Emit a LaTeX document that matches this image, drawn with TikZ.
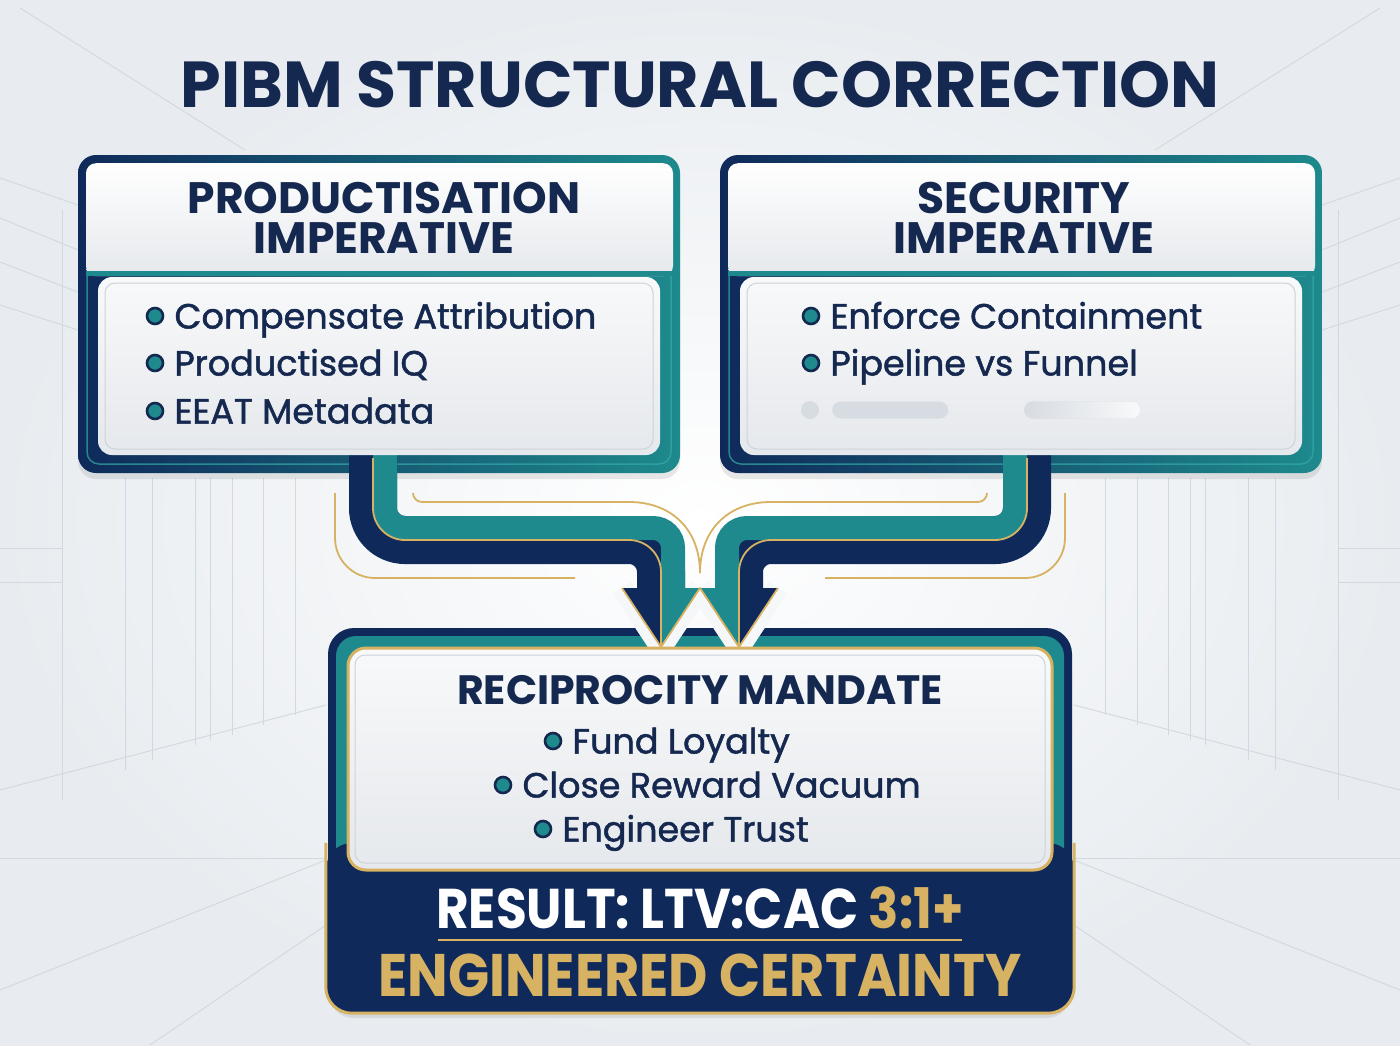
\documentclass[tikz,border=0pt]{standalone}
\usepackage{fontspec}
\setmainfont{Poppins}
\newfontfamily\popmed{Poppins}[FakeBold=1.4]
\usepackage{graphicx}
\usetikzlibrary{positioning,shadows}
\definecolor{navy}{HTML}{0F2A5A}
\definecolor{inknavy}{HTML}{15284F}
\definecolor{tealc}{HTML}{1E8A8D}
\definecolor{teallt}{HTML}{35AAA8}
\definecolor{goldc}{HTML}{D6B262}
\definecolor{bgedge}{HTML}{E8ECF0}
\definecolor{bgln}{HTML}{D2D8DF}
\definecolor{panelhi}{HTML}{F8F9FA}
\definecolor{panelbot}{HTML}{E5E8EC}
\definecolor{innerln}{HTML}{CDD3DA}
\definecolor{ghostc}{HTML}{D7DCE2}
\definecolor{haloc}{HTML}{F6F7F9}

\begin{document}
\begin{tikzpicture}[x=1pt, y=-1pt,
  outerframe/.style={left color=navy, right color=tealc, rounded corners=18pt, inner sep=0pt, drop shadow={opacity=.18, shadow xshift=0pt, shadow yshift=-6pt}},
  stripe/.style={draw=teallt, line width=1.5pt, rounded corners=12pt, inner sep=0pt, opacity=.7},
  headbox/.style={top color=white, bottom color=panelbot, rounded corners=10pt, inner sep=0pt},
  headline/.style={fill=tealc, inner sep=0pt, minimum height=5pt},
  panel/.style={top color=panelhi, bottom color=panelbot, rounded corners=14pt, inner sep=0pt},
  inline/.style={draw=innerln, line width=1pt, rounded corners=10pt, inner sep=0pt},
  titletxt/.style={font=\bfseries\fontsize{65}{70}\selectfont, text=inknavy, inner sep=0pt},
  headtxt/.style={font=\bfseries\fontsize{44}{40}\selectfont, text=inknavy, align=center, inner sep=0pt},
  dot/.style={circle, fill=tealc, draw=inknavy, line width=2.6pt, minimum size=16pt, inner sep=0pt},
  item/.style={font=\popmed\fontsize{35}{40}\selectfont, text=inknavy, inner sep=0pt, text height=25pt, text depth=0pt, anchor=west},
  ghost/.style={fill=ghostc, rounded corners=8.5pt, minimum height=17pt, inner sep=0pt},
  pipe/.style={line width=48pt},
  goldthin/.style={draw=goldc, line width=1.8pt},
  halo/.style={draw=haloc, line width=22pt},
  bgline/.style={draw=bgln, line width=0.9pt}
]
\useasboundingbox (0,0) rectangle (1400,1045);
\shade[inner color=white, outer color=bgedge] (0,0) rectangle (1400,1045);
\foreach \m in {1,-1} {
  \begin{scope}[xshift={(1-\m)*700}, xscale=\m]
    \draw[bgline] (20,8) -- (245,150);
    \draw[bgline] (0,178) -- (78,205);
    \draw[bgline] (0,218) -- (78,250);
    \draw[bgline] (0,262) -- (78,292);
    \draw[bgline] (0,305) -- (78,330);
    \draw[bgline] (62,210) -- (62,800);
    \foreach \x/\b in {125/770,152/760,195/745,210/740,232/735,263/725,295/715}
      \draw[bgline] (\x,478) -- (\x,\b);
    \draw[bgline] (0,548) -- (62,548);
    \draw[bgline] (0,582) -- (62,582);
    \draw[bgline] (0,790) -- (326,705);
    \draw[bgline] (0,858) -- (326,858);
    \draw[bgline] (0,990) -- (326,860);
    \draw[bgline] (150,1045) -- (326,925);
  \end{scope}
}

\node[titletxt] (title) at (700,85) {PIBM STRUCTURAL CORRECTION};

\node[outerframe, minimum width=602pt, minimum height=318pt] (pframe) at (379,314) {};
\node[stripe, minimum width=584pt, minimum height=300pt] (pstripe) at (pframe) {};
\node[headbox, minimum width=587pt, minimum height=113pt, anchor=north] (phead) at (379.5,163) {};
\node[headline, minimum width=587pt, anchor=north] (pline) at (379.5,271) {};

\node[outerframe, minimum width=602pt, minimum height=318pt] (sframe) at (1021,314) {};
\node[stripe, minimum width=584pt, minimum height=300pt] (sstripe) at (sframe) {};
\node[headbox, minimum width=587pt, minimum height=113pt, anchor=north] (shead) at (1021.5,163) {};
\node[headline, minimum width=587pt, anchor=north] (sline) at (1021.5,271) {};

\node[fill=navy, rounded corners=26pt, minimum width=744pt, minimum height=384pt, inner sep=0pt, drop shadow={opacity=.18, shadow xshift=0pt, shadow yshift=-6pt}] (rframe) at (700,820) {};
\node[fill=tealc, rounded corners=20pt, minimum width=728pt, minimum height=368pt, inner sep=0pt] (rstripe) at (rframe) {};
\node[fill=navy, rounded corners=26pt, minimum width=748pt, minimum height=170pt, inner sep=0pt] (rband) at (700,928) {};

\draw[halo] (622,588) -- (661,647) -- (700,588);
\draw[halo] (700,588) -- (739,647) -- (778,588);

\draw[pipe, draw=navy, rounded corners=32pt] (373,450) |- (661,540) -- (661,590);
\draw[pipe, line width=24pt, draw=tealc] (385,450) [rounded corners=20pt] |- (673,528) [rounded corners=44pt] -- (673,590);
\draw[pipe, draw=navy, rounded corners=32pt] (1027,450) |- (739,540) -- (739,590);
\draw[pipe, line width=24pt, draw=tealc] (1015,450) [rounded corners=20pt] |- (727,528) [rounded corners=44pt] -- (727,590);

\fill[navy] (622,588) -- (661,588) -- (661,647) -- cycle;
\fill[tealc] (661,588) -- (700,588) -- (661,647) -- cycle;
\fill[tealc] (700,588) -- (739,588) -- (739,647) -- cycle;
\fill[navy] (739,588) -- (778,588) -- (739,647) -- cycle;
\draw[goldthin, line join=round] (622,588) -- (661,647) -- (700,588) -- (739,647) -- (778,588);
\draw[goldthin, rounded corners=32pt] (373,458) |- (661,540) -- (661,645);
\draw[goldthin, rounded corners=32pt] (1027,458) |- (739,540) -- (739,645);

\draw[goldthin, rounded corners=40pt] (335,493) |- (575,578);
\draw[goldthin, rounded corners=40pt] (1065,493) |- (825,578);
\draw[goldthin] (413,493) [rounded corners=9pt] |- (620,502) .. controls (672,502) and (700,530) .. (700,573);
\draw[goldthin] (987,493) [rounded corners=9pt] |- (780,502) .. controls (728,502) and (700,530) .. (700,573);

\node[panel, minimum width=562pt, minimum height=178pt] (pbody) at (379,366) {};
\node[inline, minimum width=548pt, minimum height=166pt] (pbodyin) at (pbody) {};
\node[panel, minimum width=562pt, minimum height=178pt] (sbody) at (1021,366) {};
\node[inline, minimum width=548pt, minimum height=166pt] (sbodyin) at (sbody) {};
\node[panel, draw=goldc, line width=3pt, rounded corners=18pt, minimum width=704pt, minimum height=222pt] (rbody) at (700,759) {};
\node[inline, minimum width=690pt, minimum height=208pt] (rbodyin) at (rbody) {};
\draw[goldc, line width=3pt, rounded corners=26pt] (rband.north west) -- (rband.south west) -- (rband.south east) -- (rband.north east);

\node[headtxt] (phtxt) at (384,218) {PRODUCTISATION\\IMPERATIVE};
\node[dot] (pd1) at (155,316) {};
\node[item, right=10pt of pd1] (pt1) {Compensate Attribution};
\node[dot] (pd2) at (155,363) {};
\node[item, right=10pt of pd2] (pt2) {Productised IQ};
\node[dot] (pd3) at (155,411) {};
\node[item, right=10pt of pd3] (pt3) {EEAT Metadata};

\node[headtxt] (shtxt) at (1024,218) {SECURITY\\IMPERATIVE};
\node[dot] (sd1) at (811,316) {};
\node[item, right=10pt of sd1] (st1) {Enforce Containment};
\node[dot] (sd2) at (811,363) {};
\node[item, right=10pt of sd2] (st2) {Pipeline vs Funnel};
\node[ghost, circle, minimum size=18pt] (g0) at (810,410) {};
\node[ghost, minimum width=116pt, anchor=west] (g1) at (832,410) {};
\node[ghost, minimum width=116pt, anchor=west, left color=ghostc, right color=panelhi] (g2) at (1024,410) {};

\node[headtxt, font=\bfseries\fontsize{41}{40}\selectfont] (rhtxt) at (700,690) {RECIPROCITY MANDATE};
\node[dot] (rd1) at (553,741) {};
\node[item, right=10pt of rd1] (rt1) {Fund Loyalty};
\node[dot] (rd2) at (503,785) {};
\node[item, right=10pt of rd2] (rt2) {Close Reward Vacuum};
\node[dot] (rd3) at (543,829) {};
\node[item, right=10pt of rd3] (rt3) {Engineer Trust};

\node[titletxt, text=white, font=\bfseries\fontsize{56}{60}\selectfont] (result) at (700,908) {\scalebox{0.895}[1]{RESULT: LTV:CAC \textcolor{goldc}{3:1+}}};
\draw[goldc, line width=2.5pt] (438,940) -- (962,940);
\node[titletxt, text=goldc, font=\bfseries\fontsize{60}{60}\selectfont] (cert) at (700,975) {\scalebox{0.9}[1]{ENGINEERED CERTAINTY}};
\end{tikzpicture}
\end{document}
